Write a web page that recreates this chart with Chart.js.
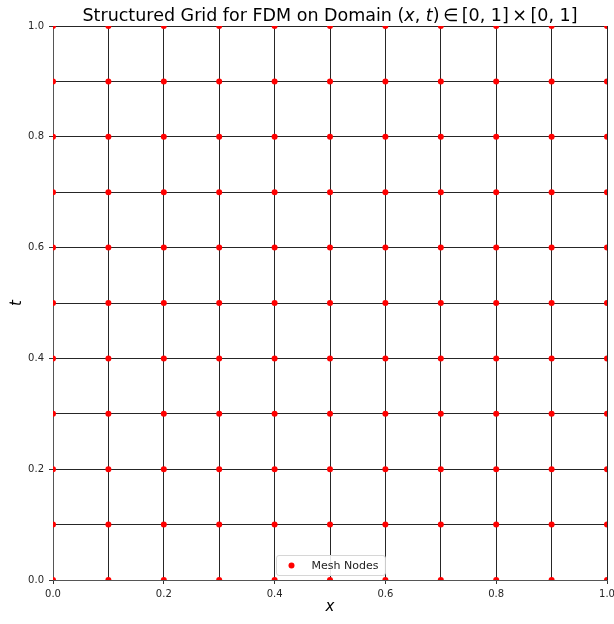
<!DOCTYPE html>
<html>
<head>
<meta charset="utf-8">
<script src="https://cdn.jsdelivr.net/npm/chart.js@4/dist/chart.umd.min.js"></script>
<style>
  html, body { margin: 0; padding: 0; background: #fff; }
  #wrap { width: 614px; height: 624px; }
</style>
</head>
<body>
<div id="wrap"><canvas id="c" width="614" height="624"></canvas></div>
<script>
// Mesh node positions along each direction
const nodeX = [0.0, 0.1, 0.2, 0.3, 0.4, 0.5, 0.6, 0.7, 0.8, 0.9, 1.0];
const nodeT = [0.0, 0.1, 0.2, 0.3, 0.4, 0.5, 0.6, 0.7, 0.8, 0.9, 1.0];

// Labelled ticks on each axis
const xTickLabels = ['0.0', '0.2', '0.4', '0.6', '0.8', '1.0'];
const tTickLabels = ['0.0', '0.2', '0.4', '0.6', '0.8', '1.0'];

const seriesName = 'Mesh Nodes';
const xAxisName = 'x';
const tAxisName = 't';

// Title pieces: [text, italic]
const titleParts = [
  ['Structured Grid for FDM on Domain (', false],
  ['x', true],
  [', ', false],
  ['t', true],
  [')\u2009\u2208\u2009[0, 1]\u2009\u00d7\u2009[0, 1]', false]
];

const FONT = "'DejaVu Sans', sans-serif";

// every (x, t) pair of the structured grid
const meshPoints = [];
nodeT.forEach(t => nodeX.forEach(x => meshPoints.push({ x: x, y: t })));

function labelFor(value, labels) {
  const hit = labels.find(l => Math.abs(parseFloat(l) - value) < 1e-9);
  return hit === undefined ? '' : hit;
}

function tickColorFor(labels) {
  return c => (c.tick && labelFor(c.tick.value, labels) !== '') ? '#333' : 'rgba(0,0,0,0)';
}

const titlePlugin = {
  id: 'mixedTitle',
  afterDraw(chart) {
    const ctx = chart.ctx;
    const area = chart.chartArea;
    const size = 17.5;
    ctx.save();
    ctx.fillStyle = '#000';
    ctx.textBaseline = 'alphabetic';
    let total = 0;
    const widths = titleParts.map(([s, it]) => {
      ctx.font = (it ? 'italic ' : '') + size + 'px ' + FONT;
      const w = ctx.measureText(s).width;
      total += w;
      return w;
    });
    let x = (area.left + area.right) / 2 - total / 2;
    titleParts.forEach(([s, it], i) => {
      ctx.font = (it ? 'italic ' : '') + size + 'px ' + FONT;
      ctx.textAlign = 'left';
      ctx.fillText(s, x, 21);
      x += widths[i];
    });
    ctx.restore();
  }
};

const legendPlugin = {
  id: 'innerLegend',
  afterDraw(chart) {
    const ctx = chart.ctx;
    const area = chart.chartArea;
    const ds = chart.data.datasets[0];
    ctx.save();
    ctx.font = '11px ' + FONT;
    const tw = ctx.measureText(ds.label).width;
    const w = 35 + tw + 7;
    const h = 20;
    const cx = (area.left + area.right) / 2;
    const left = Math.round(cx - w / 2) + 0.5;
    const top = Math.round(area.bottom - 5 - h) + 0.5;
    ctx.beginPath();
    ctx.roundRect(left, top, w, h, 2.5);
    ctx.fillStyle = 'rgba(255,255,255,0.9)';
    ctx.fill();
    ctx.strokeStyle = '#d6d6d6';
    ctx.lineWidth = 1;
    ctx.stroke();
    ctx.beginPath();
    ctx.arc(left + 15, top + h / 2, 3, 0, Math.PI * 2);
    ctx.fillStyle = ds.backgroundColor;
    ctx.fill();
    ctx.fillStyle = '#222';
    ctx.textAlign = 'left';
    ctx.textBaseline = 'middle';
    ctx.fillText(ds.label, left + 35, top + h / 2 + 0.5);
    ctx.restore();
  }
};

new Chart(document.getElementById('c').getContext('2d'), {
  type: 'scatter',
  data: {
    datasets: [{
      label: seriesName,
      data: meshPoints,
      backgroundColor: '#ff0000',
      borderColor: '#ff0000',
      pointRadius: 3,
      pointBorderWidth: 0,
      pointHoverRadius: 3,
      clip: 0
    }]
  },
  options: {
    responsive: false,
    animation: false,
    events: [],
    layout: { padding: { top: 26, right: 7, bottom: 0, left: 0 } },
    plugins: {
      legend: { display: false },
      title: { display: false },
      tooltip: { enabled: false }
    },
    scales: {
      x: {
        type: 'linear',
        min: 0,
        max: 1,
        afterBuildTicks: s => { s.ticks = nodeX.map(v => ({ value: v })); },
        afterFit: s => { s.height = 44; s.paddingLeft = 0; s.paddingRight = 0; },
        ticks: {
          autoSkip: false,
          maxRotation: 0,
          padding: 4,
          color: '#262626',
          font: { family: FONT, size: 10 },
          callback: v => labelFor(v, xTickLabels)
        },
        grid: { color: '#262626', lineWidth: 1, tickLength: 4, tickColor: tickColorFor(xTickLabels) },
        border: { color: '#555', width: 1 },
        title: {
          display: true,
          text: xAxisName,
          color: '#000',
          font: { family: FONT, style: 'italic', size: 15, lineHeight: 26 / 15 }
        }
      },
      y: {
        type: 'linear',
        min: 0,
        max: 1,
        afterBuildTicks: s => { s.ticks = nodeT.map(v => ({ value: v })); },
        afterFit: s => { s.width = 53; s.paddingTop = 0; s.paddingBottom = 0; },
        ticks: {
          autoSkip: false,
          padding: 5,
          color: '#262626',
          font: { family: FONT, size: 10 },
          callback: v => labelFor(v, tTickLabels)
        },
        grid: { color: '#262626', lineWidth: 1, tickLength: 4, tickColor: tickColorFor(tTickLabels) },
        border: { color: '#555', width: 1 },
        title: {
          display: true,
          text: tAxisName,
          color: '#000',
          font: { family: FONT, style: 'italic', size: 15, lineHeight: 26 / 15 }
        }
      }
    }
  },
  plugins: [titlePlugin, legendPlugin]
});
</script>
</body>
</html>
